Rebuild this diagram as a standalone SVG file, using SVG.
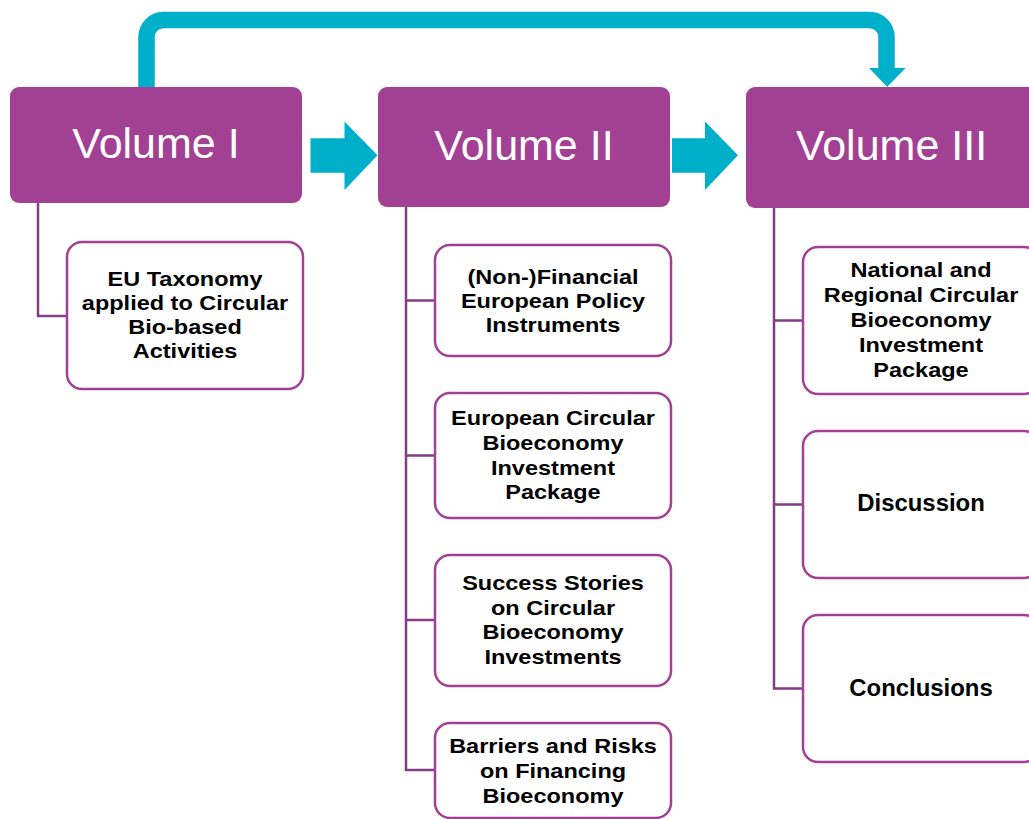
<svg xmlns="http://www.w3.org/2000/svg" width="1029" height="819" viewBox="0 0 1029 819">
<style>
.vol{fill:#A24194}
.vt{font-family:"Liberation Sans",Arial,sans-serif;font-size:43px;fill:#ffffff;text-anchor:middle}
.box{fill:#ffffff;stroke:#A24194;stroke-width:2.5}
.ct{font-family:"Liberation Sans",Arial,sans-serif;font-weight:bold;font-size:21px;fill:#000000;text-anchor:middle}
.cs{font-family:"Liberation Sans",Arial,sans-serif;font-weight:bold;font-size:23px;fill:#000000;text-anchor:middle}
.tree{fill:none;stroke:#853C88;stroke-width:2.5}
.flow{fill:#00B0CB}
</style>
<rect width="1029" height="819" fill="#ffffff"/>
<g id="connectors">
<path d="M146.5 87 V37 A17 17 0 0 1 163.5 20 H869.5 A17 17 0 0 1 886.5 37 V69" fill="none" stroke="#00B0CB" stroke-width="16.5"/>
<polygon class="flow" points="869,68 905.5,68 887.2,87"/>
<polygon class="flow" points="310.5,138.3 344.5,138.3 344.5,121.5 377.5,155.3 344.5,190 344.5,172.7 310.5,172.7"/>
<polygon class="flow" points="672,138.3 705,138.3 705,121.5 738,155.3 705,190 705,172.7 672,172.7"/>
<path class="tree" d="M38 203 V316 H67"/>
<path class="tree" d="M406 207 V770 H435 M406 300.5 H435 M406 455.5 H435 M406 620 H435"/>
<path class="tree" d="M774 208 V688.5 H803 M774 320.5 H803 M774 504.5 H803"/>
</g>
<g id="volume1">
<rect class="vol" x="10" y="87" width="292" height="116" rx="9"/>
<text class="vt" x="156" y="158.3">Volume I</text>
</g>
<g id="volume2">
<rect class="vol" x="378" y="87" width="292" height="120" rx="9"/>
<text class="vt" x="524" y="160">Volume II</text>
</g>
<g id="volume3">
<rect class="vol" x="746" y="87" width="292" height="121" rx="9"/>
<text class="vt" x="891.5" y="160">Volume III</text>
</g>
<g id="v1-taxonomy">
<rect class="box" x="67" y="242" width="236" height="147" rx="15"/>
<text class="ct" transform="translate(185,0) scale(1.12,1)"><tspan x="0" y="286.5">EU Taxonomy</tspan><tspan x="0" y="310.5">applied to Circular</tspan><tspan x="0" y="334.5">Bio-based</tspan><tspan x="0" y="358.5">Activities</tspan></text>
</g>
<g id="v2-policy">
<rect class="box" x="435" y="245" width="236" height="111" rx="15"/>
<text class="ct" transform="translate(553,0) scale(1.12,1)"><tspan x="0" y="284">(Non-)Financial</tspan><tspan x="0" y="308.3">European Policy</tspan><tspan x="0" y="332.5">Instruments</tspan></text>
</g>
<g id="v2-package">
<rect class="box" x="435" y="393" width="236" height="125" rx="15"/>
<text class="ct" transform="translate(553,0) scale(1.12,1)"><tspan x="0" y="425">European Circular</tspan><tspan x="0" y="450">Bioeconomy</tspan><tspan x="0" y="475">Investment</tspan><tspan x="0" y="499.5">Package</tspan></text>
</g>
<g id="v2-success">
<rect class="box" x="435" y="555" width="236" height="131" rx="15"/>
<text class="ct" transform="translate(553,0) scale(1.12,1)"><tspan x="0" y="590">Success Stories</tspan><tspan x="0" y="615">on Circular</tspan><tspan x="0" y="639.5">Bioeconomy</tspan><tspan x="0" y="664.3">Investments</tspan></text>
</g>
<g id="v2-barriers">
<rect class="box" x="435" y="723" width="236" height="95" rx="15"/>
<text class="ct" transform="translate(553,0) scale(1.12,1)"><tspan x="0" y="753.3">Barriers and Risks</tspan><tspan x="0" y="778.3">on Financing</tspan><tspan x="0" y="802.7">Bioeconomy</tspan></text>
</g>
<g id="v3-national">
<rect class="box" x="803" y="247" width="236" height="147" rx="15"/>
<text class="ct" transform="translate(921,0) scale(1.12,1)"><tspan x="0" y="276.7">National and</tspan><tspan x="0" y="301.7">Regional Circular</tspan><tspan x="0" y="326.7">Bioeconomy</tspan><tspan x="0" y="351.7">Investment</tspan><tspan x="0" y="376.7">Package</tspan></text>
</g>
<g id="v3-discussion">
<rect class="box" x="803" y="431" width="236" height="147" rx="15"/>
<text class="cs" transform="translate(921,0) scale(1.04,1)" x="0" y="511.5">Discussion</text>
</g>
<g id="v3-conclusions">
<rect class="box" x="803" y="615" width="236" height="147" rx="15"/>
<text class="cs" transform="translate(921,0) scale(1.04,1)" x="0" y="696.5">Conclusions</text>
</g>
</svg>
